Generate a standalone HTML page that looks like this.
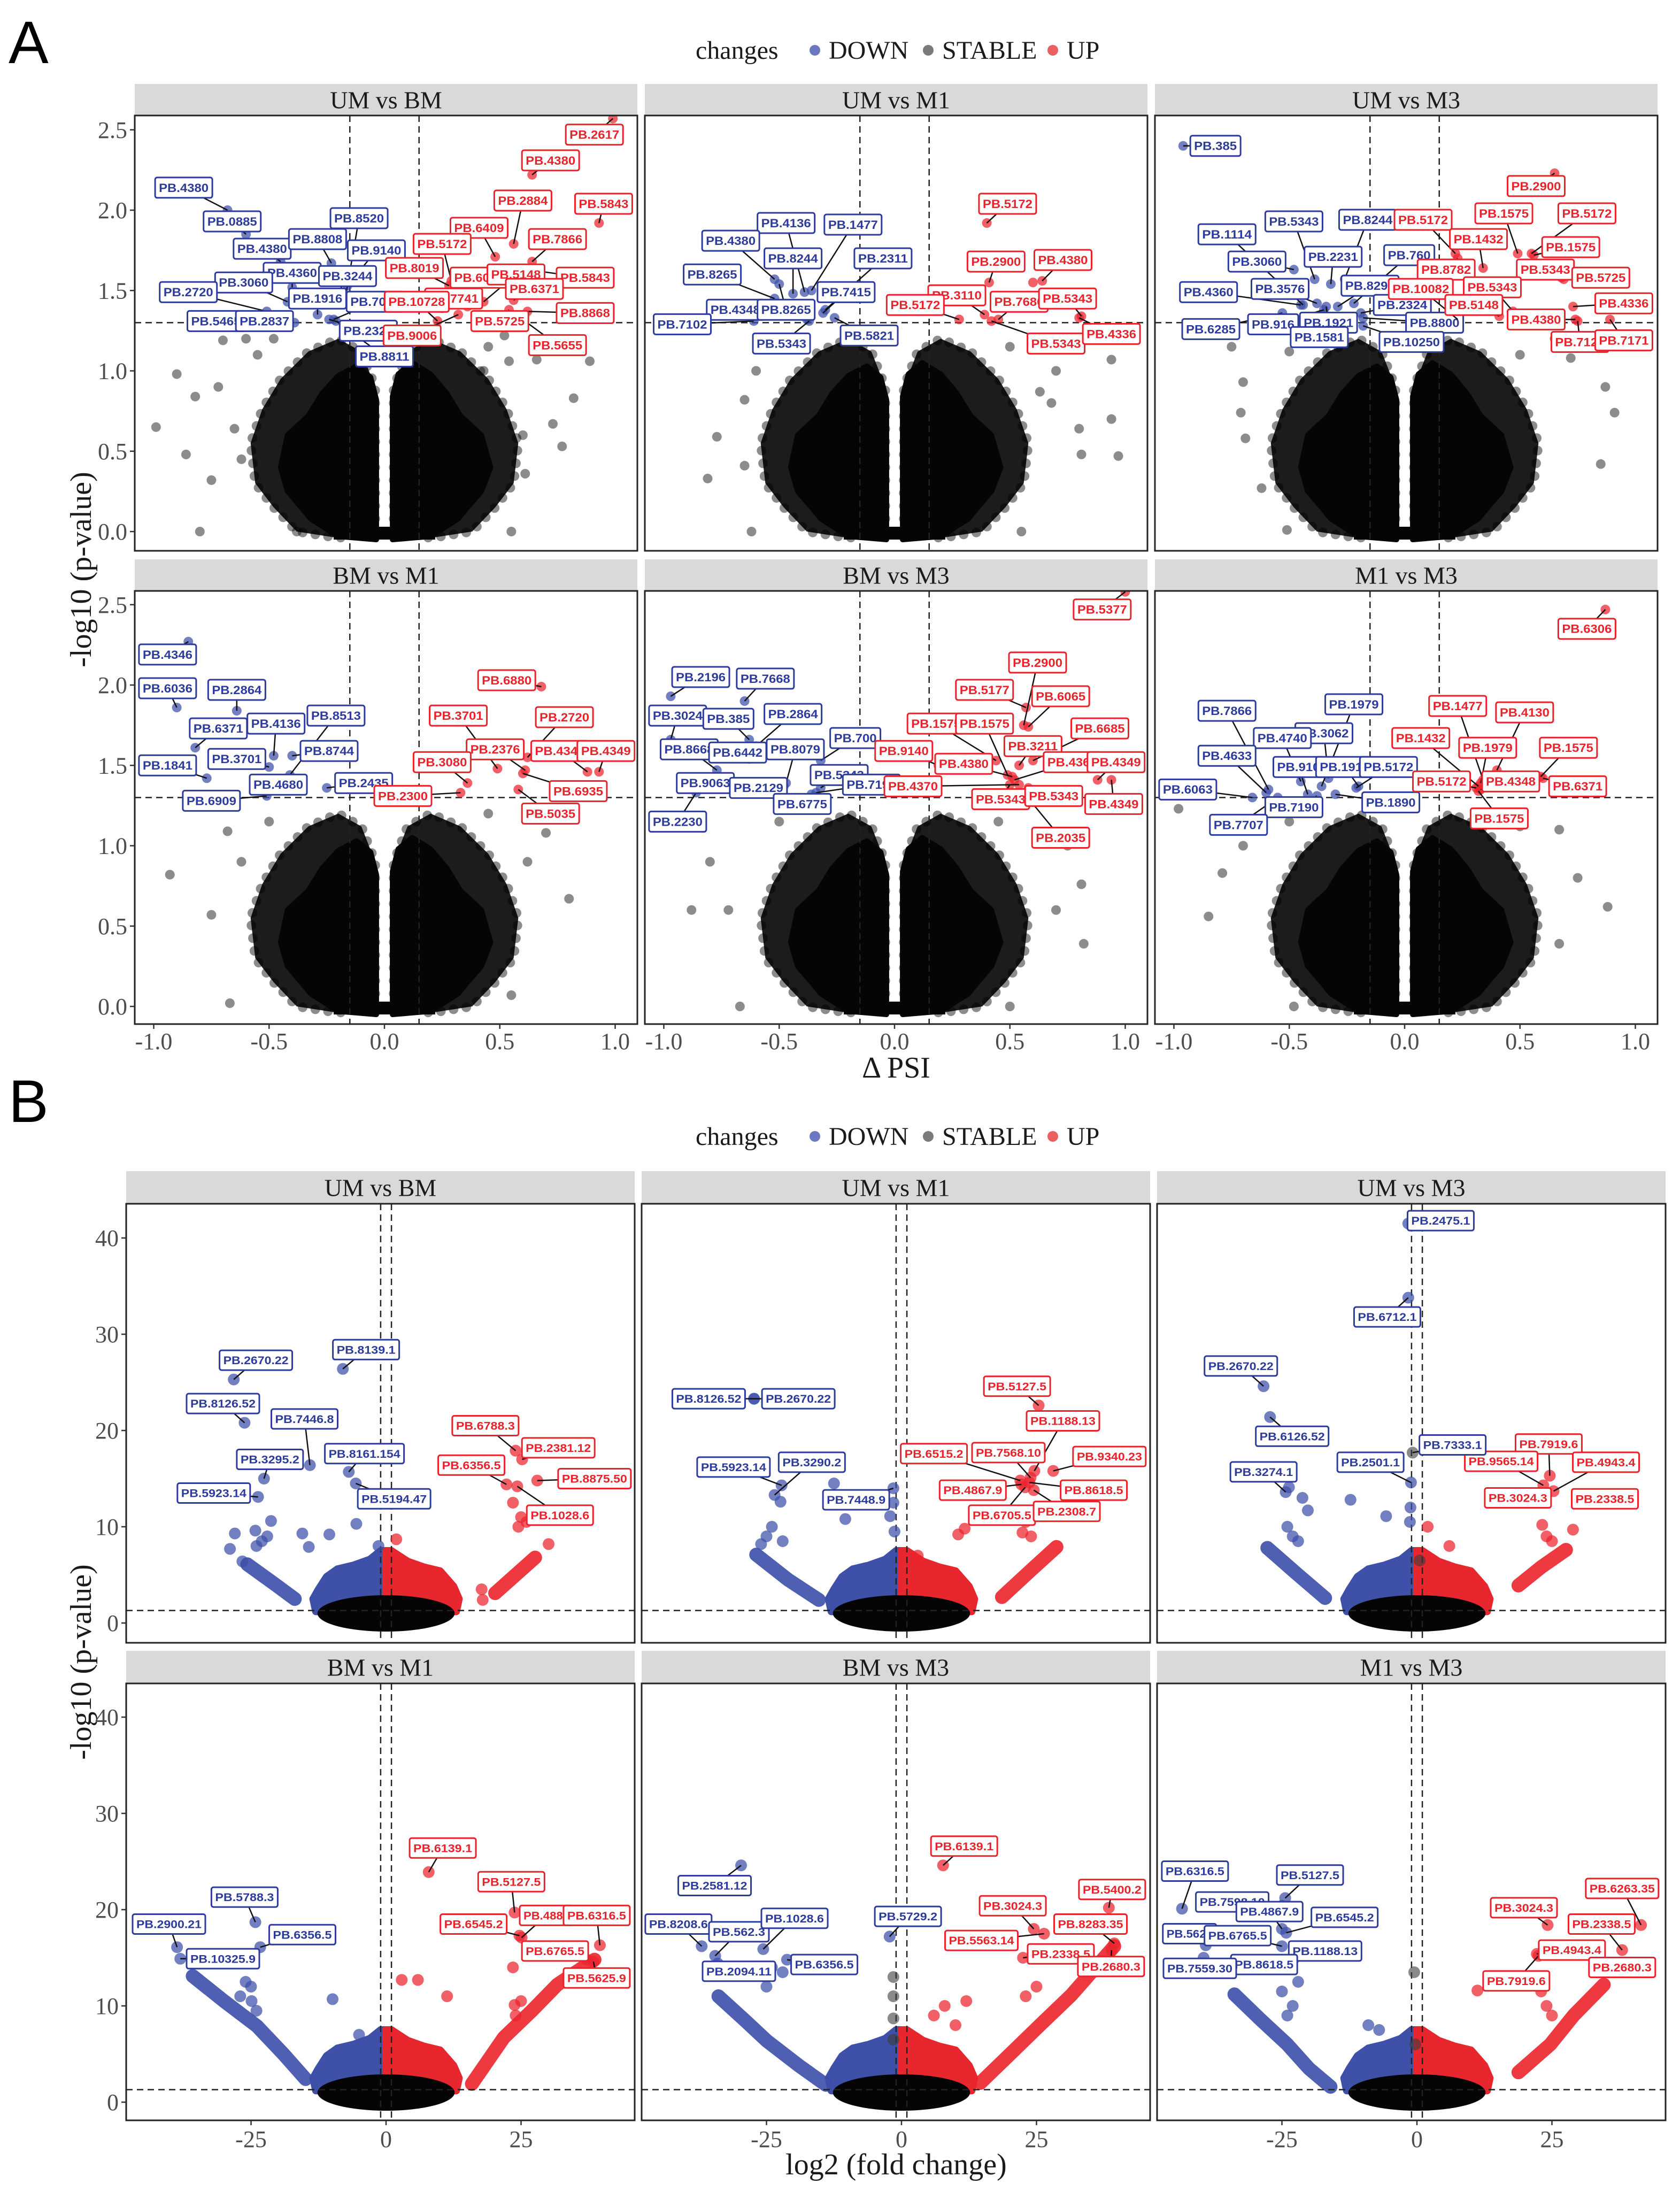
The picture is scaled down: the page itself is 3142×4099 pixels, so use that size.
<!DOCTYPE html>
<html><head><meta charset="utf-8"><title>Volcano plots</title>
<style>html,body{margin:0;padding:0;background:#fff}svg{display:block}</style></head>
<body>
<svg id="fig" xmlns="http://www.w3.org/2000/svg" width="3142" height="4099" viewBox="0 0 3142 4099">
<rect x="0" y="0" width="3142" height="4099" fill="#fff"/>
<text x="16" y="118" font-family="Liberation Sans, sans-serif" font-size="112" fill="#000">A</text>
<text x="16" y="2098" font-family="Liberation Sans, sans-serif" font-size="112" fill="#000">B</text>
<g font-family="Liberation Serif, serif" font-size="48" fill="#1a1a1a">
<text x="1301" y="110">changes</text>
<circle cx="1524" cy="94" r="10" fill="#6d78c2"/>
<text x="1550" y="110">DOWN</text>
<circle cx="1736" cy="94" r="10" fill="#7a7a7a"/>
<text x="1762" y="110">STABLE</text>
<circle cx="1969" cy="94" r="10" fill="#ea5f62"/>
<text x="1995" y="110">UP</text>
</g>
<g font-family="Liberation Serif, serif" font-size="48" fill="#1a1a1a">
<text x="1301" y="2141">changes</text>
<circle cx="1524" cy="2125" r="10" fill="#6d78c2"/>
<text x="1550" y="2141">DOWN</text>
<circle cx="1736" cy="2125" r="10" fill="#7a7a7a"/>
<text x="1762" y="2141">STABLE</text>
<circle cx="1969" cy="2125" r="10" fill="#ea5f62"/>
<text x="1995" y="2141">UP</text>
</g>
<text transform="translate(170,1065) rotate(-90)" text-anchor="middle" font-family="Liberation Serif, serif" font-size="56" fill="#1a1a1a">-log10 (p-value)</text>
<text transform="translate(170,3108) rotate(-90)" text-anchor="middle" font-family="Liberation Serif, serif" font-size="56" fill="#1a1a1a">-log10 (p-value)</text>
<text x="1676" y="2015" text-anchor="middle" font-family="Liberation Serif, DejaVu Serif, serif" font-size="56" fill="#1a1a1a">Δ PSI</text>
<text x="1676" y="4066" text-anchor="middle" font-family="Liberation Serif, serif" font-size="56" fill="#1a1a1a">log2 (fold change)</text>
</svg>
<script>
// ---------- data: panel A (ΔPSI) ----------
const A_titles = ['UM vs BM','UM vs M1','UM vs M3','BM vs M1','BM vs M3','M1 vs M3'];
const A_xticks = [-1.0,-0.5,0.0,0.5,1.0];
const A_xtickLabels = ['-1.0','-0.5','0.0','0.5','1.0'];
const A_yticks = [0,0.5,1.0,1.5,2.0,2.5];
const A_ytickLabels = ['0.0','0.5','1.0','1.5','2.0','2.5'];
const A_psiCut = 0.15;
const A_pCut = 1.3;
// [dPSI, -log10p, label, labelX, labelY]
const A1_down = [[-0.68,2.0,'PB.4380',-0.87,2.14],[-0.60,1.85,'PB.0885',-0.66,1.93],[-0.45,1.68,'PB.4380',-0.53,1.76],[-0.40,1.52,'PB.4360',-0.40,1.61],[-0.42,1.43,'PB.3060',-0.61,1.55],[-0.51,1.37,'PB.2720',-0.85,1.49],[-0.47,1.29,'PB.5465',-0.73,1.31],[-0.39,1.30,'PB.2837',-0.52,1.31],[-0.29,1.35,'PB.1916',-0.29,1.45],[-0.23,1.67,'PB.8808',-0.29,1.82],[-0.17,1.45,'PB.8520',-0.11,1.95],[-0.16,1.53,'PB.9140',-0.035,1.75],[-0.21,1.46,'PB.3244',-0.16,1.59],[-0.22,1.32,'PB.7035',-0.04,1.43],[-0.24,1.32,'PB.2324',-0.07,1.25],[-0.21,1.31,'PB.8811',0.0,1.09]];
const A1_up = [[0.99,2.57,'PB.2617',0.91,2.47],[0.64,2.22,'PB.4380',0.72,2.31],[0.56,1.79,'PB.2884',0.60,2.06],[0.93,1.92,'PB.5843',0.95,2.04],[0.48,1.71,'PB.6409',0.41,1.89],[0.64,1.68,'PB.7866',0.75,1.82],[0.29,1.56,'PB.5172',0.25,1.79],[0.28,1.53,'PB.8019',0.13,1.64],[0.36,1.40,'PB.6088',0.41,1.58],[0.43,1.43,'PB.5148',0.57,1.60],[0.67,1.62,'PB.5843',0.87,1.58],[0.56,1.44,'PB.6371',0.65,1.51],[0.25,1.39,'PB.7741',0.30,1.45],[0.23,1.31,'PB.10728',0.14,1.43],[0.32,1.35,'PB.9006',0.12,1.22],[0.54,1.38,'PB.5725',0.50,1.31],[0.62,1.37,'PB.8868',0.87,1.36],[0.59,1.33,'PB.5655',0.75,1.16]];
const A1_stable = [[-0.90,0.98],[-0.99,0.65],[-0.82,0.84],[-0.86,0.48],[-0.80,0.0],[-0.75,0.32],[-0.38,0.0],[0.55,0.0],[0.77,0.53],[0.89,1.06],[0.82,0.83],[0.73,0.67],[0.66,1.07],[0.54,1.06],[0.52,1.22],[-0.70,1.19],[-0.60,1.20],[0.43,1.0],[-0.72,0.90],[-0.65,0.64],[0.61,0.36],[-0.55,1.1],[-0.48,1.2],[0.45,1.15],[-0.62,0.45],[0.6,0.6]];
const A2_down = [[-0.39,1.49,'PB.4136',-0.47,1.92],[-0.36,1.50,'PB.1477',-0.18,1.91],[-0.52,1.57,'PB.4380',-0.71,1.81],[-0.44,1.48,'PB.8244',-0.44,1.70],[-0.30,1.38,'PB.2311',-0.05,1.70],[-0.52,1.45,'PB.8265',-0.79,1.60],[-0.31,1.36,'PB.7415',-0.21,1.49],[-0.38,1.32,'PB.4348',-0.69,1.38],[-0.50,1.54,'PB.8265',-0.47,1.38],[-0.61,1.31,'PB.7102',-0.92,1.29],[-0.37,1.31,'PB.5343',-0.49,1.17],[-0.26,1.33,'PB.5821',-0.11,1.22]];
const A2_up = [[0.40,1.92,'PB.5172',0.49,2.04],[0.41,1.55,'PB.2900',0.44,1.68],[0.64,1.56,'PB.4380',0.73,1.69],[0.60,1.55,null,0,0],[0.39,1.35,'PB.3110',0.27,1.47],[0.28,1.32,'PB.5172',0.09,1.41],[0.45,1.32,'PB.7686',0.54,1.43],[0.81,1.34,'PB.5343',0.75,1.45],[0.42,1.31,'PB.5343',0.70,1.17],[0.80,1.33,'PB.4336',0.94,1.23]];
const A2_stable = [[-0.81,0.33],[-0.77,0.59],[-0.65,0.82],[-0.62,0.0],[0.97,0.47],[0.94,0.70],[0.94,1.07],[0.81,0.48],[0.80,0.64],[0.55,0.0],[-0.65,0.41],[0.68,0.80],[0.63,0.87],[-0.60,1.0],[0.70,1.0],[-0.5,1.15],[0.5,1.15]];
const A3_down = [[-0.96,2.40,'PB.385',-0.82,2.40],[-0.44,1.41,'PB.1114',-0.77,1.85],[-0.39,1.57,'PB.5343',-0.48,1.93],[-0.26,1.57,'PB.8244',-0.16,1.94],[-0.32,1.54,'PB.2231',-0.31,1.71],[-0.22,1.42,'PB.760',0.02,1.72],[-0.48,1.63,'PB.3060',-0.64,1.68],[-0.38,1.42,'PB.3576',-0.54,1.51],[-0.29,1.40,'PB.8295',-0.15,1.53],[-0.45,1.41,'PB.4360',-0.85,1.49],[-0.19,1.36,'PB.2324',-0.01,1.41],[-0.18,1.33,'PB.8800',0.13,1.30],[-0.53,1.36,'PB.6285',-0.84,1.26],[-0.35,1.38,'PB.916',-0.57,1.29],[-0.34,1.40,'PB.1921',-0.33,1.30],[-0.36,1.35,'PB.1581',-0.37,1.21],[-0.18,1.28,'PB.10250',0.03,1.18]];
const A3_up = [[0.65,2.23,'PB.2900',0.57,2.15],[0.49,1.73,'PB.1575',0.43,1.98],[0.55,1.73,'PB.5172',0.79,1.98],[0.22,1.73,'PB.5172',0.08,1.94],[0.34,1.64,'PB.1432',0.32,1.82],[0.56,1.72,'PB.1575',0.72,1.77],[0.23,1.70,'PB.8782',0.18,1.63],[0.68,1.58,'PB.5343',0.61,1.63],[0.69,1.57,'PB.5725',0.85,1.58],[0.47,1.37,'PB.5343',0.38,1.52],[0.23,1.32,'PB.10082',0.07,1.51],[0.41,1.34,'PB.5148',0.30,1.41],[0.73,1.40,'PB.4336',0.95,1.42],[0.74,1.32,'PB.4380',0.57,1.32],[0.75,1.31,'PB.7121',0.76,1.18],[0.89,1.32,'PB.7171',0.95,1.19]];
const A3_stable = [[-0.69,0.58],[-0.71,0.74],[-0.51,0.01],[0.91,0.74],[-0.62,0.27],[0.85,0.42],[0.87,0.90],[-0.70,0.93],[0.72,1.08],[-0.75,1.15],[0.65,1.2],[-0.5,1.12],[0.5,1.1]];
const A4_down = [[-0.85,2.27,'PB.4346',-0.94,2.19],[-0.90,1.86,'PB.6036',-0.94,1.98],[-0.64,1.84,'PB.2864',-0.64,1.97],[-0.82,1.61,'PB.6371',-0.72,1.73],[-0.48,1.56,'PB.4136',-0.47,1.76],[-0.41,1.44,'PB.8513',-0.21,1.81],[-0.40,1.56,'PB.8744',-0.24,1.59],[-0.77,1.42,'PB.1841',-0.94,1.50],[-0.50,1.49,'PB.3701',-0.64,1.54],[-0.44,1.40,'PB.4680',-0.46,1.38],[-0.51,1.31,'PB.6909',-0.75,1.28],[-0.25,1.36,'PB.2435',-0.09,1.39]];
const A4_up = [[0.68,1.99,'PB.6880',0.53,2.03],[0.49,1.48,'PB.3701',0.32,1.81],[0.62,1.55,'PB.2720',0.78,1.80],[0.61,1.47,'PB.2376',0.48,1.60],[0.88,1.46,'PB.4349',0.76,1.59],[0.93,1.46,'PB.4349',0.96,1.59],[0.36,1.39,'PB.3080',0.25,1.52],[0.60,1.45,'PB.6935',0.84,1.34],[0.33,1.33,'PB.2300',0.08,1.31],[0.58,1.35,'PB.5035',0.72,1.20]];
const A4_stable = [[-0.93,0.82],[-0.67,0.02],[0.80,0.67],[0.55,0.07],[-0.68,1.09],[0.70,1.08],[-0.75,0.57],[-0.62,0.9],[0.62,0.9],[-0.5,1.15],[0.45,1.2]];
const A5_down = [[-0.97,1.93,'PB.2196',-0.84,2.05],[-0.65,1.90,'PB.7668',-0.56,2.04],[-0.97,1.66,'PB.3024',-0.94,1.81],[-0.63,1.66,'PB.385',-0.72,1.79],[-0.60,1.62,'PB.2864',-0.44,1.82],[-0.77,1.47,'PB.8668',-0.89,1.60],[-0.63,1.54,'PB.6442',-0.68,1.58],[-0.47,1.39,'PB.8079',-0.43,1.60],[-0.32,1.53,'PB.700',-0.17,1.67],[-0.32,1.36,'PB.5343',-0.24,1.44],[-0.77,1.41,'PB.9063',-0.82,1.39],[-0.48,1.37,'PB.2129',-0.59,1.36],[-0.34,1.33,'PB.7190',-0.10,1.38],[-0.36,1.32,'PB.6775',-0.40,1.26],[-0.86,1.33,'PB.2230',-0.94,1.15]];
const A5_up = [[1.0,2.58,'PB.5377',0.90,2.47],[0.56,1.75,'PB.2900',0.62,2.14],[0.57,1.86,'PB.5177',0.39,1.97],[0.58,1.74,'PB.6065',0.72,1.93],[0.44,1.53,'PB.1575',0.18,1.76],[0.49,1.44,'PB.1575',0.39,1.76],[0.60,1.53,'PB.6685',0.89,1.73],[0.54,1.50,'PB.3211',0.60,1.62],[0.19,1.50,'PB.9140',0.04,1.59],[0.51,1.43,'PB.4380',0.30,1.51],[0.52,1.41,'PB.4360',0.77,1.52],[0.88,1.41,'PB.4349',0.96,1.52],[0.54,1.38,'PB.4370',0.08,1.37],[0.50,1.38,'PB.5343',0.46,1.29],[0.58,1.36,'PB.5343',0.69,1.31],[0.94,1.41,'PB.4349',0.95,1.26],[0.56,1.33,'PB.2035',0.72,1.05]];
const A5_stable = [[-0.88,0.60],[0.81,0.76],[0.82,0.39],[0.50,0.0],[-0.67,0.0],[-0.72,0.60],[0.70,0.60],[-0.80,0.9],[0.75,1.0],[-0.5,1.15],[0.45,1.15]];
const A6_down = [[-0.59,1.35,'PB.7866',-0.77,1.84],[-0.36,1.37,'PB.1979',-0.22,1.88],[-0.33,1.42,'PB.3062',-0.35,1.70],[-0.45,1.40,'PB.4740',-0.53,1.67],[-0.60,1.33,'PB.4633',-0.77,1.56],[-0.42,1.32,'PB.910',-0.46,1.49],[-0.20,1.37,'PB.1913',-0.26,1.49],[-0.21,1.36,'PB.5172',-0.07,1.49],[-0.66,1.30,'PB.6063',-0.94,1.35],[-0.38,1.31,'PB.7190',-0.48,1.24],[-0.30,1.32,'PB.1890',-0.06,1.27],[-0.55,1.30,'PB.7707',-0.72,1.13]];
const A6_up = [[0.87,2.47,'PB.6306',0.79,2.35],[0.34,1.41,'PB.1477',0.23,1.87],[0.40,1.47,'PB.4130',0.52,1.83],[0.32,1.37,'PB.1432',0.07,1.67],[0.33,1.39,'PB.1979',0.36,1.61],[0.59,1.43,'PB.1575',0.71,1.61],[0.31,1.36,'PB.5172',0.16,1.40],[0.33,1.35,'PB.4348',0.46,1.40],[0.60,1.42,'PB.6371',0.75,1.37],[0.32,1.34,'PB.1575',0.41,1.17]];
const A6_stable = [[-0.98,1.23],[-0.85,0.56],[0.88,0.62],[0.67,0.39],[-0.79,0.83],[0.67,1.10],[-0.48,0.0],[-0.70,1.0],[0.75,0.8],[-0.5,1.15],[0.5,1.12]];
// dense non-significant cloud outline (ΔPSI, -log10p)
const A_coreLeft = [[-0.035,0.03],[-0.035,0.82],[-0.06,0.96],[-0.12,1.03],[-0.2,0.97],[-0.27,0.86],[-0.33,0.72],[-0.42,0.6],[-0.45,0.4],[-0.42,0.25],[-0.36,0.15],[-0.32,0.08],[-0.2,-0.03],[-0.035,-0.05]];
const A_coreRight = [[0.035,0.03],[0.035,0.84],[0.06,0.98],[0.12,1.05],[0.2,0.98],[0.27,0.86],[0.33,0.72],[0.42,0.6],[0.46,0.4],[0.42,0.25],[0.36,0.15],[0.32,0.08],[0.2,-0.03],[0.035,-0.05]];
const A_fringeLeft = [[-0.04,0.0],[-0.04,0.9],[-0.1,1.12],[-0.2,1.2],[-0.33,1.12],[-0.45,0.95],[-0.53,0.76],[-0.58,0.55],[-0.56,0.3],[-0.48,0.15],[-0.38,0.0],[-0.2,-0.04]];
const A_fringeRight = [[0.04,0.0],[0.04,0.9],[0.1,1.12],[0.2,1.2],[0.33,1.12],[0.45,0.95],[0.53,0.76],[0.58,0.55],[0.56,0.3],[0.48,0.15],[0.38,0.0],[0.2,-0.04]];

// ---------- data: panel B (log2 FC) ----------
const B_titles = ['UM vs BM','UM vs M1','UM vs M3','BM vs M1','BM vs M3','M1 vs M3'];
const B_xticks = [-25,0,25];
const B_xtickLabels = ['-25','0','25'];
const B_yticks = [0,10,20,30,40];
const B_ytickLabels = ['0','10','20','30','40'];
const B_fcCut = 1;
const B_pCut = 1.3;
const B_blueBlob = [[0,1.2],[-13,1.2],[-13.5,2.5],[-12.5,3.5],[-11,4.8],[-9,5.6],[-6,6],[-3,6.6],[-1,7.5],[0,7.5]];
const B_redBlob = [[0,1.2],[13,1.2],[13.5,2.5],[12.5,3.8],[10,5.4],[7,5.8],[4,6.4],[1,7.5],[0,7.5]];
const B1_leftArm = [[-25.7,6.1],[-21,4.2],[-16.9,2.5]];
const B1_rightArm = [[20.2,3.1],[24,5],[27.6,6.8]];
const B1_down = [[-28.2,25.3,'PB.2670.22',-24.1,27.3],[-26.2,20.8,'PB.8126.52',-30.2,22.8],[-8.0,26.4,'PB.8139.1',-3.7,28.4],[-14.1,16.4,'PB.7446.8',-15.1,21.2],[-22.6,15.0,'PB.3295.2',-21.5,17.0],[-23.7,13.1,'PB.5923.14',-31.9,13.5],[-6.9,15.7,'PB.8161.154',-4.0,17.6],[-5.6,14.5,'PB.5194.47',1.5,12.9],[-28.0,9.3],[-28.9,7.7],[-24.2,9.6],[-21.3,10.6],[-15.5,9.3],[-10.5,9.2],[-5.5,10.3],[-14.3,7.9],[-26.6,6.4],[-1.4,8.0],[-23,8.5],[-22,9],[-24,8]];
const B1_up = [[24.0,17.9,'PB.6788.3',18.4,20.5],[25.2,17.0,'PB.2381.12',31.9,18.2],[22.3,14.4,'PB.6356.5',15.8,16.4],[28.0,14.8,'PB.8875.50',38.6,15.0],[24.3,14.2,'PB.1028.6',32.2,11.2],[1.9,8.7],[30.1,8.2],[17.7,3.5],[17.9,2.4],[24.5,10],[25,11],[23.5,12.5],[26,10.5]];
const B2_leftArm = [[-26.9,7.1],[-21,4.5],[-15.3,2.4]];
const B2_rightArm = [[18.6,2.7],[24,5.5],[28.7,7.9]];
const B2_down = [[-27.3,23.3,'PB.8126.52',-35.7,23.3],[-22.2,14.3,'PB.5923.14',-31.1,16.2],[-23.5,13.3,'PB.3290.2',-16.6,16.7],[-1.5,14.0,'PB.7448.9',-8.4,12.8],[-22.4,12.6],[-12.5,14.5],[-10.4,10.8],[-2.1,11.1],[-1.3,9.5],[-25,9],[-24,10],[-22,8.5],[-26,8.2],[-1.5,12.5]];
const B2_down2 = [[-27.3,23.3,null,0,0]];
const B2_labelOnly = [['PB.2670.22',-19.1,23.3,-27.3,23.3]];
const B2_up = [[25.4,22.6,'PB.5127.5',21.4,24.6],[24.6,15.8,'PB.1188.13',29.9,21.0],[22.0,14.8,'PB.6515.2',6.0,17.6],[23.9,15.1,'PB.7568.10',19.8,17.7],[28.1,15.8,'PB.9340.23',38.5,17.3],[22.2,14.4,'PB.4867.9',13.2,13.8],[23.7,14.6,'PB.8618.5',35.6,13.8],[22.9,14.1,'PB.6705.5',18.6,11.2],[24.5,13.8,'PB.2308.7',30.6,11.6],[22.4,9.4],[11.7,9.8],[10.5,9.2],[23,10.5],[24,9],[3,7]];
const B3_leftArm = [[-27.7,7.8],[-22,5],[-17.0,2.6]];
const B3_rightArm = [[18.8,3.9],[23,5.8],[27.6,7.6]];
const B3_down = [[-1.6,41.5,'PB.2475.1',4.4,41.8],[-1.6,33.8,'PB.6712.1',-5.5,31.8],[-28.4,24.6,'PB.2670.22',-32.6,26.7],[-27.2,21.4,'PB.6126.52',-23.1,19.4],[-24.3,13.6,'PB.3274.1',-28.4,15.7],[-1.1,14.6,'PB.2501.1',-8.6,16.7],[-23.7,14.1],[-21.2,13.0],[-12.3,12.8],[-20.2,11.7],[-5.7,11.1],[-1.2,12],[-1.3,10.5],[-24,10],[-23,9],[-22,8.5]];
const B3_stable = [[-0.8,17.7],[0.5,6.5]];
const B3_labelOnly = [['PB.7333.1',6.6,18.5,-0.8,17.7]];
const B3_up = [[24.6,15.3,'PB.7919.6',24.4,18.6],[23.4,14.3,'PB.9565.14',15.6,16.8],[25.3,13.7,'PB.4943.4',35.0,16.7],[23.0,13.3,'PB.3024.3',18.7,13.0],[30.4,13.1,'PB.2338.5',34.8,12.9],[23.2,10.2],[28.9,9.7],[2,10],[24,9],[25,8.5],[6,8]];
const B4_leftArm = [[-35.8,13.1],[-30,10.5],[-23.9,7.9],[-19,5],[-14.9,2.4]];
const B4_rightArm = [[15.9,1.9],[21.8,6.7],[27,9.5],[31.7,12.2],[38.6,14.8]];
const B4_down = [[-24.2,18.7,'PB.5788.3',-26.2,21.3],[-38.7,16.1,'PB.2900.21',-40.2,18.5],[-23.3,16.1,'PB.6356.5',-15.5,17.4],[-38.1,14.9,'PB.10325.9',-30.2,14.9],[-24.9,10.5],[-9.9,10.7],[-25,12],[-24,9.5],[-27,11],[-26,12.5],[-5,7]];
const B4_up = [[7.9,23.9,'PB.6139.1',10.5,26.4],[23.8,19.7,'PB.5127.5',23.2,22.9],[24.7,17.3,'PB.6545.2',16.2,18.5],[25.1,17.1,'PB.4887',29.7,19.4],[39.6,16.3,'PB.6316.5',39.0,19.4],[37.2,14.8,'PB.6765.5',31.3,15.7],[38.4,14.6,'PB.5625.9',39.0,12.9],[23.8,10.1],[5.9,12.7],[2.9,12.7],[11.3,11.0],[24,9],[25,10.5],[23.5,14]];
const B5_leftArm = [[-33.9,11.0],[-29,8.5],[-25.0,6.4],[-19,3.8],[-14,1.8]];
const B5_rightArm = [[14.6,2.0],[20.5,5.2],[26,8.2],[31.4,11.1],[39.4,16.2]];
const B5_down = [[-29.7,24.6,'PB.2581.12',-34.6,22.5],[-37.0,16.2,'PB.8208.6',-41.3,18.5],[-34.5,15.2,'PB.562.3',-30.1,17.7],[-25.6,15.9,'PB.1028.6',-19.8,19.1],[-2.2,17.2,'PB.5729.2',1.2,19.3],[-34.0,14.4,'PB.2094.11',-30.1,13.6],[-21.2,14.8,'PB.6356.5',-14.3,14.3],[-24,14],[-25,12],[-22,13.5]];
const B5_stable = [[-1.5,13],[-1.5,11],[-1.5,8.7],[-1.5,6.5]];
const B5_up = [[7.7,24.6,'PB.6139.1',11.6,26.6],[38.4,20.2,'PB.5400.2',39.0,22.1],[24.5,18.0,'PB.3024.3',20.6,20.4],[39.4,16.5,'PB.8283.35',35.0,18.5],[26.4,17.5,'PB.5563.14',14.8,16.8],[22.5,15.0,'PB.2338.5',29.5,15.4],[38.9,15.8,'PB.2680.3',38.8,14.1],[25,12],[23,11],[12,10.5],[8,10],[10,8],[6,9]];
const B6_leftArm = [[-33.8,11.2],[-29,8.6],[-24.0,6.0],[-20,3.5],[-16.0,1.6]];
const B6_rightArm = [[18.8,3.1],[24.7,6.0],[29,9],[34.6,12.2]];
const B6_down = [[-43.5,20.1,'PB.6316.5',-41.1,24.0],[-24.4,21.2,'PB.5127.5',-19.8,23.6],[-25.0,20.4,'PB.7598.10',-34.2,20.8],[-25.0,18.0,'PB.4867.9',-27.3,19.8],[-24.2,17.6,'PB.6545.2',-13.4,19.2],[-39.1,16.3,'PB.5623',-42.1,17.5],[-25.0,16.2,'PB.6765.5',-33.2,17.3],[-22.4,16.0,'PB.1188.13',-17.0,15.7],[-22.8,14.9,'PB.8618.5',-28.3,14.3],[-39.5,15.0,'PB.7559.30',-40.2,13.9],[-25,11.5],[-23,10],[-24,9],[-9,8],[-7,7.5],[-22,12.5]];
const B6_stable = [[-0.5,13.5],[-0.3,6]];
const B6_up = [[41.5,18.4,'PB.6263.35',38.0,22.2],[24.2,18.4,'PB.3024.3',19.8,20.2],[38.0,15.8,'PB.2338.5',34.2,18.5],[22.2,15.4,'PB.4943.4',28.7,15.8],[34.2,14.0,'PB.2680.3',38.0,14.0],[22.5,15.2,'PB.7919.6',18.4,12.6],[11.2,11.6],[24,10],[25,9],[23,11.5]];

// ---------- drawing ----------
const NS = 'http://www.w3.org/2000/svg';
const svg = document.getElementById('fig');
function mk(tag, attrs, parent){const e=document.createElementNS(NS,tag);for(const k in attrs)e.setAttribute(k,attrs[k]);(parent||svg).appendChild(e);return e;}
const BLUE='rgba(60,78,168,0.72)', RED='rgba(236,35,44,0.72)', GRAY='rgba(0,0,0,0.45)';
const BLUE_T='#2d3b9c', RED_T='#e8232b';

function polyPath(arr, sx, sy){return 'M'+arr.map(p=>sx(p[0]).toFixed(1)+','+sy(p[1]).toFixed(1)).join('L')+'Z';}

function strip(g, L, top, W, h, title){
  const r=mk('rect',{x:L,y:top,width:W,height:h,fill:'#d9d9d9'},g);
  
  
  const t=mk('text',{x:L+W/2,y:top+h/2+16,'text-anchor':'middle','font-family':'Liberation Serif, serif','font-size':46,fill:'#1a1a1a'},g);
  t.textContent=title;
  
  
}

function drawLabels(g, pts, color, sx, sy, fs, cw){
  const lg=mk('g',{},g);
  
  
  pts.forEach(p=>{
    if(p[2]==null) return;
    const ln=mk('line',{x1:sx(p[0]),y1:sy(p[1]),x2:sx(p[3]),y2:sy(p[4]),stroke:'#111','stroke-width':2.5},lg);
    
    
  });
  pts.forEach(p=>{
    if(p[2]==null) return;
    const w=p[2].length*cw+16, h=fs+16;
    const cx=sx(p[3]), cy=sy(p[4]);
    const b=mk('rect',{x:cx-w/2,y:cy-h/2,width:w,height:h,rx:4,fill:'#fff',stroke:color,'stroke-width':3},lg);
    
    
    const t=mk('text',{x:cx,y:cy+fs*0.36,'text-anchor':'middle','font-family':'Liberation Sans, sans-serif','font-size':fs,'font-weight':'bold',fill:color,textLength:w-14,lengthAdjust:'spacingAndGlyphs'},lg);
    t.textContent=p[2];
    
    
  });
}

function drawA(i, down, up, stable){
  const col=i%3, row=Math.floor(i/3);
  const L=[252,1206,2160][col], W=940, T=[216,1105][row], Bt=[1030,1915][row], Y0=[994,1882][row];
  const sx=x=>L+467+x*431.5, sy=y=>Y0-y*300.5;
  const g=mk('g',{});
  
  
  strip(g,L,T-59,W,59,A_titles[i]);
  const cid='clipA'+i;
  const cp=mk('clipPath',{id:cid},g); mk('rect',{x:L,y:T,width:W,height:Bt-T},cp);
  const pg=mk('g',{'clip-path':'url(#'+cid+')'},g);
  [A_fringeLeft,A_fringeRight].forEach(s=>{
    const p=mk('path',{d:polyPath(s,sx,sy),fill:'#1c1c1c'},pg);
    
    
    const e=mk('path',{d:polyPath(s,sx,sy),fill:'none',stroke:'rgba(0,0,0,0.45)','stroke-width':18,'stroke-linecap':'round','stroke-dasharray':'0 24'},pg);
    
    
  });
  [A_coreLeft,A_coreRight].forEach(s=>{
    const p=mk('path',{d:polyPath(s,sx,sy),fill:'#050505',stroke:'#050505','stroke-width':10,'stroke-linejoin':'round'},pg);
    
    
  });
  const base=mk('rect',{x:sx(-0.22),y:sy(0.03),width:sx(0.22)-sx(-0.22),height:sy(-0.05)-sy(0.03),fill:'#050505'},pg);
  
  
  stable.forEach(p=>{
    const c=mk('circle',{cx:sx(p[0]),cy:sy(p[1]),r:9,fill:GRAY},pg);
    
    
  });
  const dash={stroke:'#222','stroke-width':2.5,'stroke-dasharray':'12 8'};
  [-A_psiCut,A_psiCut].forEach(v=>{
    const l=mk('line',Object.assign({x1:sx(v),x2:sx(v),y1:T,y2:Bt},dash),pg);
    
    
  });
  const hl=mk('line',Object.assign({x1:L,x2:L+W,y1:sy(A_pCut),y2:sy(A_pCut)},dash),pg);
  
  
  down.forEach(p=>{const c=mk('circle',{cx:sx(p[0]),cy:sy(p[1]),r:9,fill:BLUE},pg);
    
    });
  up.forEach(p=>{const c=mk('circle',{cx:sx(p[0]),cy:sy(p[1]),r:9,fill:RED},pg);
    
    });
  drawLabels(pg,down,BLUE_T,sx,sy,22,13);
  drawLabels(pg,up,RED_T,sx,sy,22,13);
  const fr=mk('rect',{x:L,y:T,width:W,height:Bt-T,fill:'none',stroke:'#222','stroke-width':3},g);
  
  
  if(col===0){A_yticks.forEach((v,k)=>{
    mk('line',{x1:L-9,x2:L,y1:sy(v),y2:sy(v),stroke:'#333','stroke-width':2.5},g);
    const t=mk('text',{x:L-14,y:sy(v)+15,'text-anchor':'end','font-family':'Liberation Serif, serif','font-size':44,fill:'#4d4d4d'},g);
    t.textContent=A_ytickLabels[k];
    
    
  });}
  if(row===1){A_xticks.forEach((v,k)=>{
    mk('line',{x1:sx(v),x2:sx(v),y1:Bt,y2:Bt+9,stroke:'#333','stroke-width':2.5},g);
    const t=mk('text',{x:sx(v),y:Bt+47,'text-anchor':'middle','font-family':'Liberation Serif, serif','font-size':44,fill:'#4d4d4d'},g);
    t.textContent=A_xtickLabels[k];
    
    
  });}
}

function drawB(i, leftArm, rightArm, down, up, stable, extraLabels){
  const col=i%3, row=Math.floor(i/3);
  const L=[236,1200,2164][col], W=951, T=[2251,3148][row], Bt=[3072,3965][row], Y0=[3035,3931][row];
  const sx=x=>L+486+x*10.1, sy=y=>Y0-y*18.0;
  const g=mk('g',{});
  
  
  strip(g,L,T-61,W,61,B_titles[i]);
  const cid='clipB'+i;
  const cp=mk('clipPath',{id:cid},g); mk('rect',{x:L,y:T,width:W,height:Bt-T},cp);
  const pg=mk('g',{'clip-path':'url(#'+cid+')'},g);
  const bb=mk('path',{d:polyPath(B_blueBlob,sx,sy),fill:'#3e50a8',stroke:'#3e50a8','stroke-width':14,'stroke-linejoin':'round'},pg);
  
  
  const rb=mk('path',{d:polyPath(B_redBlob,sx,sy),fill:'#e8262d',stroke:'#e8262d','stroke-width':14,'stroke-linejoin':'round'},pg);
  
  
  const el=mk('ellipse',{cx:sx(0),cy:sy(1.0),rx:12.7*10.1,ry:34,fill:'#050505'},pg);
  
  
  const la=mk('polyline',{points:leftArm.map(p=>sx(p[0])+','+sy(p[1])).join(' '),fill:'none',stroke:'rgba(60,78,168,0.9)','stroke-width':26,'stroke-linecap':'round','stroke-linejoin':'round'},pg);
  
  
  const ra=mk('polyline',{points:rightArm.map(p=>sx(p[0])+','+sy(p[1])).join(' '),fill:'none',stroke:'rgba(236,35,44,0.9)','stroke-width':26,'stroke-linecap':'round','stroke-linejoin':'round'},pg);
  
  
  const dash={stroke:'#222','stroke-width':2.5,'stroke-dasharray':'12 8'};
  [-B_fcCut,B_fcCut].forEach(v=>{
    const l=mk('line',Object.assign({x1:sx(v),x2:sx(v),y1:T,y2:Bt},dash),pg);
    
    
  });
  const hl=mk('line',Object.assign({x1:L,x2:L+W,y1:sy(B_pCut),y2:sy(B_pCut)},dash),pg);
  
  
  (stable||[]).forEach(p=>{const c=mk('circle',{cx:sx(p[0]),cy:sy(p[1]),r:11,fill:'rgba(60,60,60,0.6)'},pg);
    
    });
  down.forEach(p=>{const c=mk('circle',{cx:sx(p[0]),cy:sy(p[1]),r:11,fill:BLUE},pg);
    
    });
  up.forEach(p=>{const c=mk('circle',{cx:sx(p[0]),cy:sy(p[1]),r:11,fill:RED},pg);
    
    });
  drawLabels(pg,down.filter(p=>p.length>2),BLUE_T,sx,sy,21,12);
  drawLabels(pg,up.filter(p=>p.length>2),RED_T,sx,sy,21,12);
  if(extraLabels){drawLabels(pg,extraLabels.map(e=>[e[3],e[4],e[0],e[1],e[2]]),BLUE_T,sx,sy,21,12);}
  const fr=mk('rect',{x:L,y:T,width:W,height:Bt-T,fill:'none',stroke:'#222','stroke-width':3},g);
  
  
  if(col===0){B_yticks.forEach((v,k)=>{
    mk('line',{x1:L-9,x2:L,y1:sy(v),y2:sy(v),stroke:'#333','stroke-width':2.5},g);
    const t=mk('text',{x:L-14,y:sy(v)+15,'text-anchor':'end','font-family':'Liberation Serif, serif','font-size':44,fill:'#4d4d4d'},g);
    t.textContent=B_ytickLabels[k];
    
    
  });}
  if(row===1){B_xticks.forEach((v,k)=>{
    mk('line',{x1:sx(v),x2:sx(v),y1:Bt,y2:Bt+9,stroke:'#333','stroke-width':2.5},g);
    const t=mk('text',{x:sx(v),y:Bt+50,'text-anchor':'middle','font-family':'Liberation Serif, serif','font-size':44,fill:'#4d4d4d'},g);
    t.textContent=B_xtickLabels[k];
    
    
  });}
}

drawA(0,A1_down,A1_up,A1_stable);
drawA(1,A2_down,A2_up,A2_stable);
drawA(2,A3_down,A3_up,A3_stable);
drawA(3,A4_down,A4_up,A4_stable);
drawA(4,A5_down,A5_up,A5_stable);
drawA(5,A6_down,A6_up,A6_stable);
drawB(0,B1_leftArm,B1_rightArm,B1_down,B1_up,null,null);
drawB(1,B2_leftArm,B2_rightArm,B2_down.concat(B2_down2),B2_up,null,B2_labelOnly);
drawB(2,B3_leftArm,B3_rightArm,B3_down,B3_up,B3_stable,B3_labelOnly);
drawB(3,B4_leftArm,B4_rightArm,B4_down,B4_up,null,null);
drawB(4,B5_leftArm,B5_rightArm,B5_down,B5_up,B5_stable,null);
drawB(5,B6_leftArm,B6_rightArm,B6_down,B6_up,B6_stable,null);
</script>
</body></html>
